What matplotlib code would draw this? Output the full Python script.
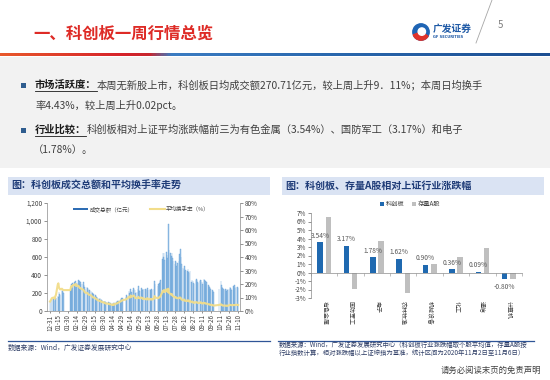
import numpy as np
import pandas as pd
import matplotlib
matplotlib.use("Agg")
import matplotlib.pyplot as plt
import matplotlib.dates as mdates
from matplotlib.patches import Rectangle, Patch, Circle, Wedge
from matplotlib.lines import Line2D
from matplotlib.colors import LinearSegmentedColormap
from matplotlib.ticker import FuncFormatter, MultipleLocator
from matplotlib.transforms import blended_transform_factory

plt.rcParams["font.family"] = ["Noto Sans CJK SC", "DejaVu Sans"]
plt.rcParams["axes.unicode_minus"] = False

W, H = 550, 380

# ---- left chart: STAR market daily turnover (亿元) and avg turnover rate (%)
holidays = ["2020-01-01", "2020-01-24", "2020-01-27", "2020-01-28", "2020-01-29",
            "2020-01-30", "2020-01-31", "2020-04-06", "2020-05-01", "2020-05-04",
            "2020-05-05", "2020-06-25", "2020-06-26", "2020-10-01", "2020-10-02",
            "2020-10-05", "2020-10-06", "2020-10-07", "2020-10-08"]
trade_days = pd.bdate_range("2019-12-31", "2020-11-10").difference(pd.to_datetime(holidays))

amount = [
    95,
    120, 130,
    135, 125, 110, 140, 150,
    170, 160, 215, 190, 175,
    230, 225, 210, 200,
    230, 280, 300, 290, 310,
    320, 305, 335, 300, 315,
    345, 330, 310, 320, 305,
    300, 320, 290, 270, 250,
    270, 260, 245, 230, 235,
    220, 210, 200, 190, 185,
    175, 165, 155, 160, 145,
    130, 140, 135, 120, 125,
    110, 105, 115, 100, 95,
    100, 95, 90, 85,
    80, 75, 85, 80, 90,
    95, 105, 110, 100, 115,
    120, 135, 140, 150,
    160, 175, 170,
    220, 200, 190, 250, 210,
    230, 260, 245, 235, 200,
    215, 250, 280, 230, 225,
    260, 245, 230, 250, 240,
    250, 235, 245, 260, 230,
    240, 230, 225, 245, 235,
    250, 330, 300,
    280, 300, 310, 330, 340,
    580, 640, 600, 650, 570,
    660, 620, 590, 970, 680,
    640, 610, 650, 590, 560,
    520, 560, 540, 500, 530,
    560, 630, 690, 600, 520,
    480, 470, 500, 440, 460,
    450, 470, 430, 420, 440,
    320, 350, 330, 310, 300,
    340, 360, 350, 320, 310,
    330, 350, 340, 320, 300,
    360, 340, 330, 300, 320,
    290, 280, 270, 260, 250,
    230, 220, 210,
    250,
    330, 290, 270, 255, 240,
    235, 245, 225, 250, 230,
    240, 270, 255, 240, 235,
    280, 265, 285, 260, 264,
    270, 260,
]

turnover = [
    7.0,
    8.5, 9.5,
    10.0, 9.5, 9.0, 11.0, 12.0,
    19.5, 20.5, 17.5, 16.5, 16.0,
    16.5, 16.0, 15.5, 15.5,
    15.5, 17.5, 18.5, 18.0, 19.0,
    19.5, 19.0, 20.0, 18.5, 19.0,
    18.5, 17.5, 17.0, 17.0, 16.5,
    16.0, 15.5, 15.0, 14.0, 13.5,
    13.5, 13.0, 12.5, 12.0, 12.0,
    11.5, 11.0, 10.5, 10.0, 10.0,
    9.5, 9.0, 8.5, 8.5, 8.0,
    7.5, 7.5, 7.0, 7.0, 6.5,
    6.5, 6.0, 6.0, 5.5, 5.5,
    5.5, 5.0, 5.0, 5.0,
    4.5, 4.5, 5.0, 4.5, 5.0,
    5.5, 5.5, 6.0, 6.0, 6.5,
    7.0, 7.5, 7.5, 8.0,
    8.5, 9.0, 9.0,
    10.5, 10.0, 10.0, 11.5, 10.5,
    11.0, 11.5, 11.0, 10.5, 9.5,
    9.5, 10.0, 10.5, 9.5, 9.5,
    10.0, 9.5, 9.0, 9.5, 9.0,
    9.0, 8.5, 9.0, 9.5, 8.5,
    9.0, 8.5, 8.5, 9.0, 8.5,
    9.0, 11.0, 10.0,
    9.5, 10.0, 10.0, 10.5, 11.0,
    14.0, 15.0, 14.5, 15.5, 14.0,
    16.0, 15.0, 14.0, 16.5, 13.5,
    12.5, 12.0, 12.5, 11.5, 11.0,
    10.0, 10.5, 10.0, 9.5, 9.5,
    9.5, 10.0, 10.0, 9.5, 8.5,
    8.0, 8.0, 8.5, 7.5, 7.5,
    7.5, 8.0, 7.5, 7.0, 7.5,
    6.5, 7.0, 6.5, 6.5, 6.0,
    6.5, 6.5, 6.5, 6.0, 6.0,
    6.0, 6.5, 6.0, 6.0, 5.5,
    6.0, 6.0, 5.5, 5.5, 5.5,
    5.0, 5.0, 5.0, 4.5, 4.5,
    4.5, 4.0, 4.0,
    4.5,
    5.0, 4.5, 4.5, 4.0, 4.0,
    4.0, 4.0, 3.8, 4.0, 3.8,
    4.3, 4.6, 4.5, 4.4, 4.25,
    4.4, 4.3, 4.5, 4.4, 4.55,
    4.6, 4.4,
]

# ---- right chart: industry returns relative to SSE composite (%)
industries = ["有色金属", "国防军工", "电子", "农林牧渔", "机械设备", "化工", "通信", "计算机"]
star_rel = [3.54, 3.17, 1.78, 1.62, 0.90, 0.36, 0.09, -0.80]
a_share_rel = [6.50, -1.95, 3.75, -2.45, 1.05, 1.80, 2.90, -0.80]


def fx(x):
    return x / W


def fy(y):
    return 1 - y / H


fig = plt.figure(figsize=(W / 100, H / 100), dpi=100)
fig.patch.set_facecolor("white")

# gray band behind bullet text
fig.add_artist(Rectangle((0, fy(168)), 1, (168 - 57) / H, transform=fig.transFigure,
                         facecolor="#F2F2F2", edgecolor="none", zorder=0))

# header gradient rule
grad_cmap = LinearSegmentedColormap.from_list(
    "rule", [(0, "#E8582C"), (0.22, "#D6232A"), (0.27, "#C8262E"),
             (0.31, "#3B7CC2"), (0.6, "#2A68AE"), (1, "#1D4F92")])
ax_rule = fig.add_axes([0, fy(56), 1, 3.5 / H])
ax_rule.imshow(np.linspace(0, 1, 400)[None, :], aspect="auto", cmap=grad_cmap)
ax_rule.axis("off")

# title
fig.text(fx(33), fy(34), "一、科创板一周行情总览", fontsize=11.8, fontweight="bold",
         color="#DE2B26", va="center", ha="left")

# logo
ax_logo = fig.add_axes([fx(412), fy(41), 18 / W, 18 / H])
ax_logo.set_xlim(-1.1, 1.1)
ax_logo.set_ylim(-1.1, 1.1)
ax_logo.set_aspect("equal")
ax_logo.axis("off")
ax_logo.add_patch(Circle((0, 0), 1.0, color="#1E64B4"))
ax_logo.add_patch(Wedge((0, 0), 1.0, 200, 330, color="#E0332B"))
ax_logo.add_patch(Circle((0.1, 0.05), 0.45, color="white"))
fig.text(fx(433), fy(29), "广发证券", fontsize=7, fontweight="bold", color="#1F5AA6",
         va="center", ha="left")
fig.text(fx(433), fy(37), "GF SECURITIES", fontsize=2.6, fontweight="bold", color="#1F5AA6",
         va="center", ha="left", family="DejaVu Sans")
fig.add_artist(Line2D([fx(476), fx(492)], [fy(43), fy(0)], color="#A6A6A6", lw=0.6,
                      transform=fig.transFigure))
fig.text(fx(500), fy(25), "5", fontsize=7, color="#7F7F7F", va="center", ha="center")

# bullets
fig.canvas.draw()
renderer = fig.canvas.get_renderer()
text_size = 7.4
text_color = "#3F3F3F"


def bullet(y, head, body):
    fig.add_artist(Rectangle((fx(21), fy(y + 2.6)), 5 / W, 5 / H, transform=fig.transFigure,
                             facecolor="#2F5D8F", edgecolor="none"))
    t = fig.text(fx(35), fy(y), head, fontsize=text_size, fontweight="bold", color="#1A1A1A",
                 va="center", ha="left")
    bb = t.get_window_extent(renderer=renderer)
    fig.add_artist(Line2D([bb.x0 / W, bb.x1 / W], [fy(y + 6), fy(y + 6)], color="#1A1A1A",
                          lw=0.6, transform=fig.transFigure))
    fig.text(bb.x1 / W, fy(y), body, fontsize=text_size, color=text_color, va="center", ha="left")


bullet(85, "市场活跃度：", "本周无新股上市，科创板日均成交额270.71亿元，较上周上升9．11%；本周日均换手")
fig.text(fx(35), fy(105), "率4.43%，较上周上升0.02pct。", fontsize=text_size, color=text_color,
         va="center", ha="left")
bullet(130, "行业比较：", "科创板相对上证平均涨跌幅前三为有色金属（3.54%）、国防军工（3.17%）和电子")
fig.text(fx(33), fy(150), "（1.78%）。", fontsize=text_size, color=text_color, va="center", ha="left")

# chart header bars
head_color = "#DAE3F3"
head_text = "#1F3C78"
fig.add_artist(Rectangle((fx(8), fy(195)), 262 / W, 18 / H, transform=fig.transFigure,
                         facecolor=head_color, edgecolor="none"))
fig.text(fx(11), fy(186), "图：科创板成交总额和平均换手率走势", fontsize=7.2, fontweight="bold",
         color=head_text, va="center", ha="left")
fig.add_artist(Rectangle((fx(282), fy(195)), 262 / W, 18 / H, transform=fig.transFigure,
                         facecolor=head_color, edgecolor="none"))
fig.text(fx(285), fy(186), "图：科创板、存量A股相对上证行业涨跌幅", fontsize=7.2, fontweight="bold",
         color=head_text, va="center", ha="left")

# ---- left chart
axis_gray = "#8C8C8C"
tick_color = "#404040"
ax = fig.add_axes([fx(47), fy(311), 193 / W, 108 / H])
ax.bar(trade_days, amount, width=0.85, color="#9DC3E6", edgecolor="#5B9BD5", linewidth=0.25,
       zorder=2)
ax.set_ylim(0, 1200)
ax.yaxis.set_major_locator(MultipleLocator(200))
ax.yaxis.set_major_formatter(FuncFormatter(lambda v, p: f"{v:,.0f}"))
ax.set_xlim(pd.Timestamp("2019-12-26"), pd.Timestamp("2020-11-13"))
ax.set_xticks(pd.date_range("2019-12-31", "2020-11-10", freq="15D"))
ax.xaxis.set_major_formatter(mdates.DateFormatter("%m-%d"))
ax.tick_params(axis="x", labelsize=4.5, rotation=90, length=1.5, width=0.4, pad=1,
               colors=tick_color)
ax.tick_params(axis="y", labelsize=4.6, length=2, width=0.4, pad=1.5, colors=tick_color)
ax.spines["top"].set_visible(False)
ax.spines["right"].set_visible(False)
for s in ("left", "bottom"):
    ax.spines[s].set_color(axis_gray)
    ax.spines[s].set_linewidth(0.5)
ax.patch.set_alpha(0)

ax_r = ax.twinx()
ax_r.plot(trade_days, np.array(turnover) / 100, color="#F2DD8A", lw=1.5, alpha=0.95,
          solid_joinstyle="round", zorder=3)
ax_r.set_ylim(0, 0.8)
ax_r.yaxis.set_major_locator(MultipleLocator(0.1))
ax_r.yaxis.set_major_formatter(FuncFormatter(lambda v, p: f"{v * 100:.0f}%"))
ax_r.tick_params(axis="y", labelsize=4.6, length=2, width=0.4, pad=1.5, colors=tick_color)
for s in ("top", "left", "bottom"):
    ax_r.spines[s].set_visible(False)
ax_r.spines["right"].set_color(axis_gray)
ax_r.spines["right"].set_linewidth(0.5)

handles = [Patch(facecolor="#2E6DB4", edgecolor="none"),
           Line2D([0], [0], color="#F2DD8A", lw=1.5)]
ax_r.legend(handles, ["成交总额（亿元）", "平均换手率（%）"], loc="center",
            bbox_to_anchor=(0.49, 0.944), ncol=2, frameon=False, fontsize=4,
            handlelength=2.6, handleheight=0.35, columnspacing=3, handletextpad=0.3,
            labelcolor="#404040")

# ---- right chart
ax2 = fig.add_axes([fx(311), fy(298), 211 / W, 85 / H])
xpos = np.arange(len(industries))
bw = 0.21
off = 0.155
ax2.bar(xpos - off, star_rel, width=bw, color="#1F69B0", label="科创板", zorder=2)
ax2.bar(xpos + off, a_share_rel, width=bw, color="#BFBFBF", label="存量A股", zorder=2)
for i, v in enumerate(star_rel):
    if v >= 0:
        ax2.annotate(f"{v:.2f}%", (xpos[i] - off, v), xytext=(0, 2), textcoords="offset points",
                     ha="center", va="bottom", fontsize=4.8, color="#595959")
    else:
        ax2.annotate(f"{v:.2f}%", (xpos[i] - off, v), xytext=(0, -2.5),
                     textcoords="offset points", ha="center", va="top", fontsize=4.8,
                     color="#595959")
ax2.set_xlim(-0.5, len(industries) - 0.5)
ax2.set_ylim(-3, 7)
ax2.yaxis.set_major_locator(MultipleLocator(1))
ax2.yaxis.set_major_formatter(FuncFormatter(lambda v, p: f"{v:.0f}%"))
ax2.tick_params(axis="y", labelsize=4.6, length=2, width=0.4, pad=1.5, colors=tick_color)
ax2.spines["bottom"].set_position(("data", 0))
ax2.set_xticks(np.arange(-0.5, len(industries), 1))
ax2.set_xticklabels([])
ax2.tick_params(axis="x", length=2, width=0.4, colors=axis_gray)
ax2.spines["top"].set_visible(False)
ax2.spines["right"].set_visible(False)
for s in ("left", "bottom"):
    ax2.spines[s].set_color(axis_gray)
    ax2.spines[s].set_linewidth(0.5)
trans = blended_transform_factory(ax2.transData, ax2.transAxes)
for i, name in enumerate(industries):
    ax2.text(i, -0.03, name, transform=trans, rotation=-90, ha="center", va="top",
             fontsize=4.3, color="#404040")
ax2.legend(loc="center", bbox_to_anchor=(0.47, 1.106), ncol=2, frameon=False, fontsize=4.5,
           handlelength=0.6, handleheight=0.6, handletextpad=0.3, columnspacing=1.2,
           labelcolor="#404040")

# source lines
src_color = "#2F3E66"
for x0, x1 in ((8, 270), (278, 534)):
    fig.add_artist(Line2D([fx(x0), fx(x1)], [fy(341), fy(341)], color="#2F5597", lw=0.9,
                          transform=fig.transFigure))
fig.text(fx(8), fy(348), "数据来源：Wind，广发证券发展研究中心", fontsize=4.9, color=src_color,
         va="center", ha="left")
fig.text(fx(279), fy(345), "数据来源：Wind，广发证券发展研究中心（科创板行业涨跌幅取个股平均值，存量A股按",
         fontsize=4.6, color=src_color, va="center", ha="left")
fig.text(fx(279), fy(353), "行业指数计算，相对涨跌幅以上证综指为基准，统计区间为2020年11月2日至11月6日）",
         fontsize=4.6, color=src_color, va="center", ha="left")

fig.text(fx(541), fy(370), "请务必阅读末页的免责声明", fontsize=6, color="#404040",
         va="center", ha="right")

fig.savefig("out.png", dpi=100)
